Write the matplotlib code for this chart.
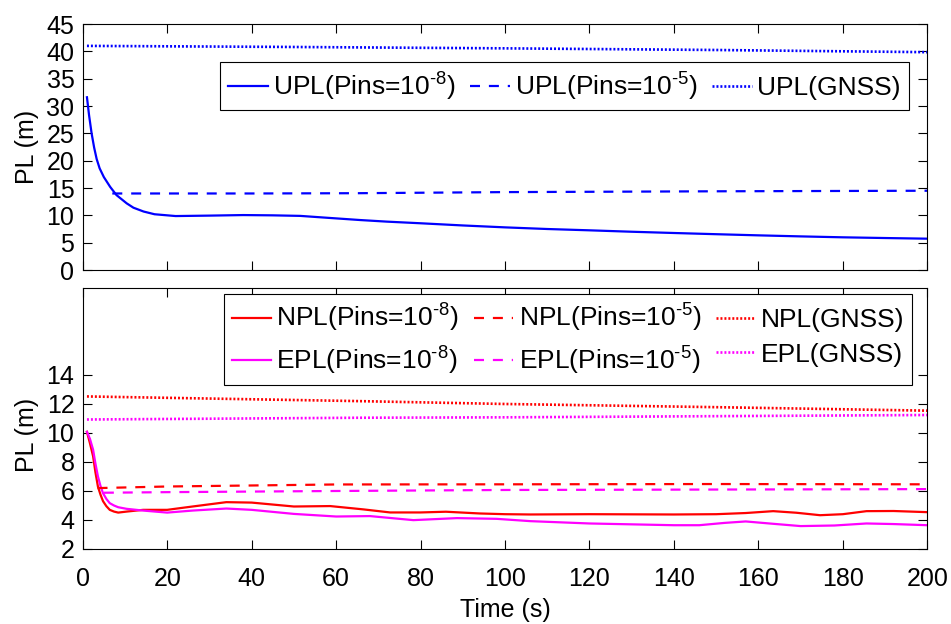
import matplotlib
matplotlib.use("Agg")
import matplotlib.pyplot as plt

plt.rcParams['font.family'] = ['Liberation Sans', 'DejaVu Sans']
plt.rcParams['mathtext.fontset'] = 'custom'
plt.rcParams['mathtext.rm'] = 'Liberation Sans'
plt.rcParams['mathtext.it'] = 'Liberation Sans'
plt.rcParams['mathtext.default'] = 'regular'

# ---------------- data ----------------
t_upl8 = [1, 1.5, 2.1, 2.7, 3.3, 4, 5, 6.5, 8, 10.4, 12, 14.4, 17, 22, 30, 38, 45, 51.5, 58,
          65.7, 72, 80, 90, 100, 110, 120, 130, 140, 150, 160, 170, 180, 190, 200]
upl8 = [31.6, 28.3, 25.0, 22.4, 20.3, 18.6, 17.0, 15.2, 13.7, 12.2, 11.4, 10.7, 10.2, 9.87,
        9.95, 10.05, 10.0, 9.9, 9.55, 9.14, 8.85, 8.55, 8.15, 7.8, 7.5, 7.26, 7.0, 6.77, 6.55,
        6.34, 6.15, 5.98, 5.85, 5.73]
t_upl5 = [7, 20, 40, 65, 100, 150, 200]
upl5 = [14.0, 14.0, 14.0, 14.05, 14.25, 14.4, 14.5]
t_uplg = [1, 50, 100, 150, 200]
uplg = [41.0, 40.8, 40.55, 40.25, 39.85]

t_npl8 = [1, 1.7, 2.45, 3.0, 3.6, 4.2, 4.8, 5.6, 6.4, 7.4, 8.4, 10.4, 14.3, 20, 26, 34, 40, 50,
          58.6, 66.5, 72.8, 80, 86, 94, 100, 106, 120, 140, 150, 157, 163.5, 169, 174.6, 180,
          185.6, 192, 200]
npl8 = [10.08, 9.3, 8.4, 7.3, 6.3, 5.75, 5.3, 4.95, 4.7, 4.58, 4.51, 4.58, 4.7, 4.7, 4.93, 5.23,
        5.2, 4.93, 4.96, 4.73, 4.52, 4.52, 4.57, 4.45, 4.4, 4.38, 4.4, 4.38, 4.4, 4.48, 4.61,
        4.5, 4.33, 4.4, 4.61, 4.62, 4.54]
t_epl8 = [1, 1.7, 2.45, 3.0, 3.6, 4.2, 4.8, 5.6, 6.4, 7.4, 8.4, 10.4, 14.3, 20, 26, 34, 40, 50,
          60, 68, 78.3, 88.6, 98, 106, 120, 140, 146, 152, 157, 163, 170, 178, 185.6, 192, 200]
epl8 = [10.08, 9.6, 8.85, 7.9, 7.0, 6.35, 5.85, 5.45, 5.16, 5.0, 4.88, 4.77, 4.65, 4.51, 4.65,
        4.79, 4.7, 4.42, 4.24, 4.27, 3.99, 4.13, 4.08, 3.92, 3.76, 3.64, 3.64, 3.8, 3.9, 3.75,
        3.58, 3.62, 3.76, 3.72, 3.64]
t_npl5 = [3.5, 20, 60, 100, 150, 200]
npl5 = [6.2, 6.31, 6.45, 6.46, 6.48, 6.46]
t_epl5 = [5, 20, 60, 100, 150, 200]
epl5 = [5.88, 5.92, 6.0, 6.07, 6.1, 6.13]
t_nplg = [1, 65, 100, 150, 200]
nplg = [12.52, 12.2, 12.0, 11.78, 11.54]
t_eplg = [1, 65, 100, 150, 200]
eplg = [10.93, 11.05, 11.08, 11.16, 11.24]

lab_u = [r'UPL(Pins=10$^{\text{-}8}$)', r'UPL(Pins=10$^{\text{-}5}$)', 'UPL(GNSS)']
lab_n = [r'NPL(Pins=10$^{\text{-}8}$)', r'NPL(Pins=10$^{\text{-}5}$)', 'NPL(GNSS)']
lab_e = [r'EPL(Pins=10$^{\text{-}8}$)', r'EPL(Pins=10$^{\text{-}5}$)', 'EPL(GNSS)']

xticks = list(range(0, 201, 20))
yticks_top = list(range(0, 46, 5))
yticks_bot = list(range(2, 15, 2))

# ---------------- styling ----------------
LW = 1.6
DASH = (0, (4.5, 4))
DOT = (0, (0.75, 0.75))
DOT_LW = 1.9
BLUE, RED, MAG = (0, 0, 1), (1, 0, 0), (1, 0, 1)
TICKFS = 18
LEGFS = 19

fig = plt.figure(figsize=(9.51, 6.24), dpi=100)
ax1 = fig.add_axes([0.0870, 0.5673, 0.8881, 0.3942])
ax2 = fig.add_axes([0.0870, 0.1202, 0.8881, 0.4183])

for ax in (ax1, ax2):
    ax.tick_params(direction='in', length=6.5, width=0.8, top=True, right=True,
                   labelsize=TICKFS)
    ax.tick_params(axis='x', pad=13)
    ax.tick_params(axis='y', pad=6)
    for s in ax.spines.values():
        s.set_linewidth(0.8)
    ax.set_xlim(0, 200)
    ax.set_xticks(xticks)

ax1.plot(t_upl8, upl8, color=BLUE, lw=LW, linestyle='-', label=lab_u[0])
ax1.plot(t_upl5, upl5, color=BLUE, lw=LW, linestyle=DASH, label=lab_u[1])
ax1.plot(t_uplg, uplg, color=BLUE, lw=DOT_LW, linestyle=DOT, label=lab_u[2])
ax1.set_ylim(0, 45)
ax1.set_yticks(yticks_top)
ax1.tick_params(axis='x', labelbottom=False)
ax1.set_ylabel('PL (m)', fontsize=TICKFS)
ax1.yaxis.set_label_coords(-0.052, 0.5)

h_n8, = ax2.plot(t_npl8, npl8, color=RED, lw=LW, linestyle='-', label=lab_n[0])
h_e8, = ax2.plot(t_epl8, epl8, color=MAG, lw=LW, linestyle='-', label=lab_e[0])
h_n5, = ax2.plot(t_npl5, npl5, color=RED, lw=LW, linestyle=DASH, label=lab_n[1])
h_e5, = ax2.plot(t_epl5, epl5, color=MAG, lw=LW, linestyle=DASH, label=lab_e[1])
h_ng, = ax2.plot(t_nplg, nplg, color=RED, lw=DOT_LW, linestyle=DOT, label=lab_n[2])
h_eg, = ax2.plot(t_eplg, eplg, color=MAG, lw=DOT_LW, linestyle=DOT, label=lab_e[2])
ax2.set_ylim(2, 20)
ax2.set_yticks(yticks_bot)
ax2.set_ylabel('PL (m)', fontsize=TICKFS)
ax2.yaxis.set_label_coords(-0.052, 0.437)
ax2.set_xlabel('Time (s)', fontsize=TICKFS, labelpad=5)

leg_kw = dict(fontsize=LEGFS, handlelength=1.5, handletextpad=0.2, columnspacing=0.55,
              borderpad=0.3, borderaxespad=0, fancybox=False, framealpha=1,
              edgecolor='black', loc='upper right')
leg1 = ax1.legend(ncol=3, bbox_to_anchor=(0.978, 0.844), labelspacing=0.3, **leg_kw)
leg1.get_frame().set_linewidth(0.8)
leg2 = ax2.legend(handles=[h_n8, h_e8, h_n5, h_e5, h_ng, h_eg], ncol=3,
                  bbox_to_anchor=(0.982, 0.976), labelspacing=0.4, **leg_kw)
leg2.get_frame().set_linewidth(0.8)

fig.savefig('out.png', dpi=100)
